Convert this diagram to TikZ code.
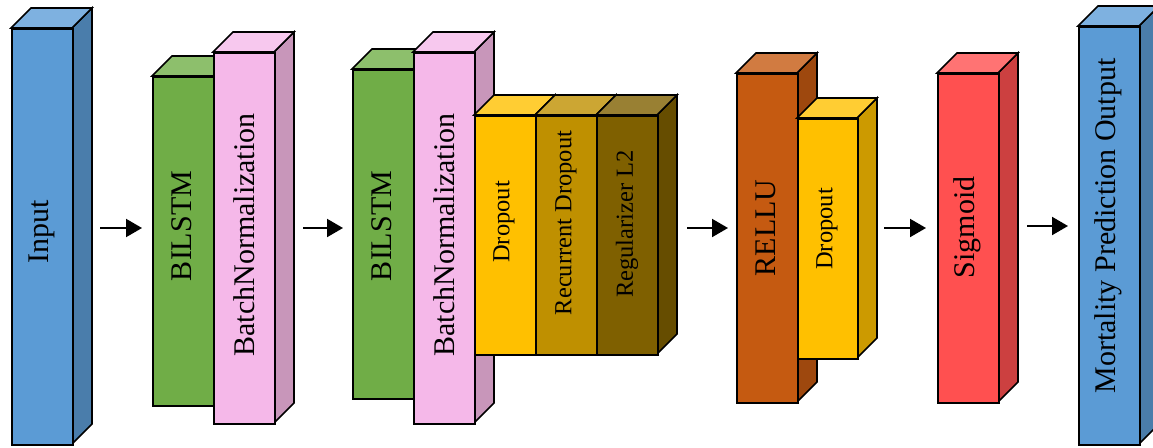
\documentclass[tikz,border=0pt]{standalone}
\usepackage{fontspec}
\setmainfont{Liberation Serif}
\usetikzlibrary{arrows.meta}
\definecolor{inF}{HTML}{5B9BD5}\definecolor{inT}{HTML}{7EB1E0}\definecolor{inS}{HTML}{4A7DAB}
\definecolor{grF}{HTML}{70AD47}\definecolor{grT}{HTML}{8DBF6C}\definecolor{grS}{HTML}{5A8A39}
\definecolor{pkF}{HTML}{F5B8E9}\definecolor{pkT}{HTML}{F7C8EE}\definecolor{pkS}{HTML}{C896BA}
\definecolor{y1F}{HTML}{FFC000}\definecolor{y1T}{HTML}{FFCD33}\definecolor{y1S}{HTML}{CC9A00}
\definecolor{y2F}{HTML}{BF9000}\definecolor{y2T}{HTML}{CCA633}\definecolor{y2S}{HTML}{997300}
\definecolor{y3F}{HTML}{7F6000}\definecolor{y3T}{HTML}{998033}\definecolor{y3S}{HTML}{664D00}
\definecolor{orF}{HTML}{C55A11}\definecolor{orT}{HTML}{D17B41}\definecolor{orS}{HTML}{9E480E}
\definecolor{rdF}{HTML}{FF5050}\definecolor{rdT}{HTML}{FF7373}\definecolor{rdS}{HTML}{CC4040}
\tikzset{
  face/.style={draw=black, line width=1.6pt, line join=miter},
  lbl/.style={rotate=90, inner sep=0pt, text=black},
  big/.style={font=\fontsize{30}{30}\selectfont},
  small/.style={font=\fontsize{24.5}{24.5}\selectfont},
  flow/.style={line width=2pt, -{Triangle[length=16pt,width=18pt]}}
}
% #1 name, #2 x1, #3 y1 (top), #4 x2, #5 y2 (bottom), #6 colour prefix
\newcommand{\cuboid}[6]{%
  \fill[#6S] (#4,#3) -- (#4+20,#3-20) -- (#4+20,#5-20) -- (#4,#5) -- cycle;
  \draw[face] (#4,#3) -- (#4+20,#3-20) -- (#4+20,#5-20) -- (#4,#5) -- cycle;
  \fill[#6T] (#2,#3) -- (#2+20,#3-20) -- (#4+20,#3-20) -- (#4,#3) -- cycle;
  \draw[face] (#2,#3) -- (#2+20,#3-20) -- (#4+20,#3-20) -- (#4,#3) -- cycle;
  \node[face, fill=#6F, minimum width={#4-#2}, minimum height={#5-#3}, inner sep=0pt, anchor=north west] (#1) at (#2,#3) {};
}
\begin{document}
\begin{tikzpicture}[x=1pt,y=-1pt]
\useasboundingbox (0,0) rectangle (1153,447);
\clip (0,0) rectangle (1153,447);
% Input
\cuboid{input}{11}{28}{72}{444}{in}
\node[lbl,big] (tinput) at (41.5,232) {Input};
% Block 1
\cuboid{bil1}{152}{76}{213}{405}{gr}
\node[lbl,big] (tbil1) at (182,226) {BILSTM};
\cuboid{bn1}{213}{52}{274}{423}{pk}
\node[lbl,big] (tbn1) at (244,235) {BatchNormalization};
% Block 2
\cuboid{bil2}{352}{69}{413}{398}{gr}
\node[lbl,big] (tbil2) at (382,226) {BILSTM};
\cuboid{bn2}{413}{52}{474}{423}{pk}
\node[lbl,big] (tbn2) at (444,235) {BatchNormalization};
\cuboid{drop1}{474}{115}{535}{354}{y1}
\node[lbl,small] (tdrop1) at (504,222) {Dropout};
\cuboid{rdrop}{535}{115}{596}{354}{y2}
\node[lbl,small] (trdrop) at (566,223) {Recurrent Dropout};
\cuboid{reg}{596}{115}{657}{354}{y3}
\node[lbl,small] (treg) at (627,224) {Regularizer L2};
% Block 3
\cuboid{relu}{736}{73}{797}{402}{or}
\node[lbl,big] (trelu) at (766,228) {RELLU};
\cuboid{drop2}{797}{118}{857}{358}{y1}
\node[lbl,small] (tdrop2) at (827,229) {Dropout};
% Sigmoid
\cuboid{sig}{937}{73}{998}{402}{rd}
\node[lbl,big] (tsig) at (967,227.5) {Sigmoid};
% Output
\cuboid{out}{1078}{26}{1139}{444}{in}
\node[lbl,big] (tout) at (1108,226) {Mortality Prediction Output};
% Arrows
\coordinate (a1s) at (100,228); \coordinate (a1e) at (142,228);
\coordinate (a2s) at (303,228); \coordinate (a2e) at (343,228);
\coordinate (a3s) at (687,228); \coordinate (a3e) at (728,228);
\coordinate (a4s) at (884,228); \coordinate (a4e) at (926,228);
\coordinate (a5s) at (1027,226); \coordinate (a5e) at (1068,226);
\draw[flow] (a1s) -- (a1e);
\draw[flow] (a2s) -- (a2e);
\draw[flow] (a3s) -- (a3e);
\draw[flow] (a4s) -- (a4e);
\draw[flow] (a5s) -- (a5e);
\end{tikzpicture}
\end{document}
